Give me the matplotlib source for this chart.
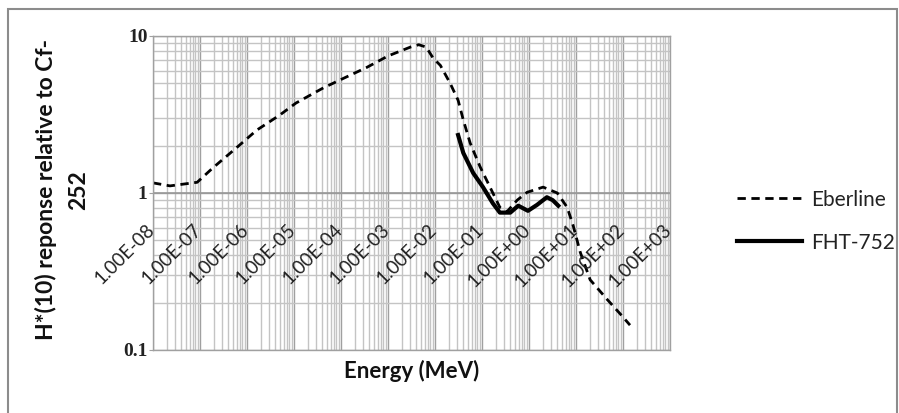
import matplotlib
matplotlib.use("Agg")
import matplotlib.pyplot as plt
from matplotlib.patches import Rectangle
from matplotlib.ticker import LogLocator, NullFormatter

# data (energy in MeV, relative response)
eberline_e = [1.0e-8, 2.3e-8, 8.7e-8, 1.9e-7, 6.2e-7, 1.6e-6, 5.0e-6, 1.1e-5,
              4.2e-5, 1.05e-4, 3.5e-4, 1.0e-3, 3.0e-3, 4.5e-3, 6.5e-3, 9.1e-3,
              1.3e-2, 2.1e-2, 3.1e-2, 4.0e-2, 5.6e-2, 9.1e-2, 0.148, 0.24,
              0.34, 0.56, 0.91, 2.0, 4.0, 6.5, 8.7, 12.3, 20, 46, 87, 141]
eberline_r = [1.16, 1.11, 1.17, 1.45, 1.96, 2.51, 3.14, 3.74,
              4.67, 5.32, 6.3, 7.46, 8.5, 8.8, 8.5, 7.24,
              6.5, 5.0, 3.9, 2.92, 2.08, 1.47, 1.09, 0.81,
              0.76, 0.90, 1.01, 1.09, 1.0, 0.81, 0.62, 0.42, 0.28, 0.21, 0.17, 0.144]

fht_e = [3.1e-2, 4.0e-2, 6.5e-2, 0.105, 0.17, 0.24, 0.40, 0.59, 0.95,
         1.48, 2.4, 3.2, 4.2]
fht_r = [2.34, 1.80, 1.34, 1.09, 0.86, 0.75, 0.75, 0.83, 0.77,
         0.84, 0.94, 0.90, 0.83]

decades = list(range(-8, 4))
xlabels = ["1.00E+%02d" % d if d >= 0 else "1.00E-%02d" % (-d) for d in decades]

W, H = 899, 413
fig = plt.figure(figsize=(W / 100, H / 100), dpi=100)
fig.patch.set_facecolor("white")

# outer border of the chart area (bottom edge is cut off)
fig.patches.append(Rectangle((8 / W, -0.05), (897 - 8) / W, (H - 9) / H + 0.05,
                             transform=fig.transFigure, fill=False,
                             edgecolor="#8c8c8c", linewidth=1.5))

ax = fig.add_axes([153 / W, (H - 350) / H, (670 - 153) / W, (350 - 36) / H])
ax.set_xscale("log")
ax.set_yscale("log")
ax.set_xlim(1e-8, 1e3)
ax.set_ylim(0.1, 10)

ax.xaxis.set_major_locator(LogLocator(base=10, numticks=20))
ax.xaxis.set_minor_locator(LogLocator(base=10, subs=range(2, 10), numticks=20))
ax.yaxis.set_minor_locator(LogLocator(base=10, subs=range(2, 10), numticks=20))
ax.grid(True, which="major", color="#a0a0a0", linewidth=1.0)
ax.grid(True, which="minor", color="#c4c4c4", linewidth=1.0)
ax.set_axisbelow(True)
for s in ax.spines.values():
    s.set_color("#a0a0a0")
    s.set_linewidth(1.0)

ax.tick_params(axis="x", which="both", length=0, labelbottom=False)
ax.xaxis.set_minor_formatter(NullFormatter())
ax.tick_params(axis="y", which="major", length=3, color="#a0a0a0", pad=1)
ax.tick_params(axis="y", which="minor", length=0)
ax.set_yticks([0.1, 1, 10])
ax.set_yticklabels(["0.1", "1", "10"], fontfamily="Liberation Serif",
                   fontsize=14, fontweight="bold", color="#222222")
ax.yaxis.set_minor_formatter(NullFormatter())

# horizontal axis crosses at 1
ax.axhline(1, color="#999999", linewidth=1.2, zorder=1)

# rotated tick labels hanging under the y=1 line
for d, lab in zip(decades, xlabels):
    ax.annotate(lab, xy=(10.0 ** d, 1), xytext=(3, -38),
                textcoords="offset pixels", rotation=45,
                rotation_mode="anchor", ha="right", va="baseline",
                fontfamily="Lato", fontsize=13.5, color="#222222",
                annotation_clip=False)

ax.plot(eberline_e, eberline_r, color="black", linestyle=(0, (3, 2)),
        linewidth=2.0, label="Eberline")
ax.plot(fht_e, fht_r, color="black", linestyle="-", linewidth=3.0,
        label="FHT-752")

fig.text(411.5 / W, (H - 378) / H, "Energy (MeV)", ha="center", va="baseline",
         fontfamily="Lato", fontweight="bold", fontsize=16, color="#111111")
fig.text(62 / W, (H - 190) / H, "H*(10) reponse relative to Cf-\n252",
         rotation=90, ha="center", va="center", multialignment="center",
         linespacing=1.6, fontfamily="Lato", fontweight="bold", fontsize=16.5,
         color="#111111")

leg = fig.legend(loc="upper left", bbox_to_anchor=(718 / W, (H - 171) / H),
                 frameon=False, prop={"family": "Lato", "size": 15},
                 handlelength=3.15, handletextpad=0.4, labelspacing=1.1)
for t in leg.get_texts():
    t.set_color("#222222")

fig.savefig("out.png", dpi=100)
